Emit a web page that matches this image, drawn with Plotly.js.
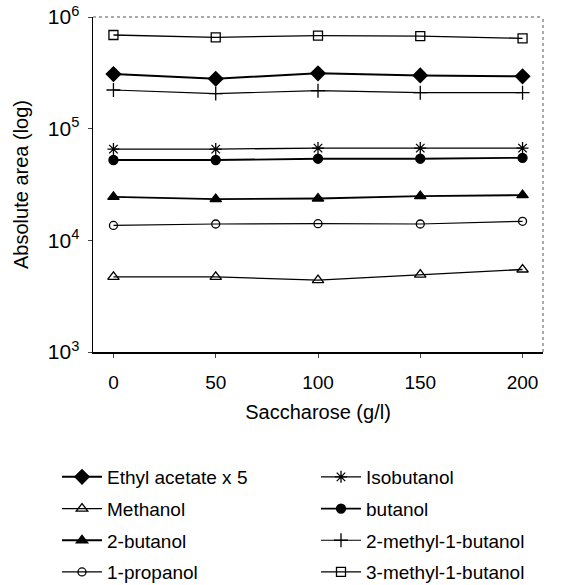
<!DOCTYPE html>
<html>
<head>
<meta charset="utf-8">
<script src="https://cdn.plot.ly/plotly-3.0.1.min.js"></script>
<style>body{margin:0;padding:0;background:#fff}#chart{width:567px;height:585px}</style>
</head>
<body>
<div id="chart"></div>
<script>
const saccharose = [0, 50, 100, 150, 200];
const yTickVals = [1000, 10000, 100000, 1000000];
const yTickText = ['10<sup>3</sup>', '10<sup>4</sup>', '10<sup>5</sup>', '10<sup>6</sup>'];
const ethylAcetateX5 = [308000, 280000, 313000, 300000, 294000];
const methanol = [4710, 4710, 4400, 4940, 5480];
const butanol2 = [24500, 23400, 23700, 24900, 25400];
const propanol1 = [13600, 14000, 14100, 14000, 14800];
const isobutanol = [65600, 65600, 67000, 67000, 67000];
const butanol = [52400, 52400, 53800, 53800, 54800];
const methylButanol2 = [222000, 206000, 219000, 210000, 210000];
const methylButanol3 = [690000, 658000, 680000, 675000, 644000];

function tr(name, y, symbol, size, lw, legend, group) {
  return {
    x: saccharose, y: y, name: name, type: 'scatter', mode: 'lines+markers',
    line: {color: '#000', width: lw},
    marker: {symbol: symbol, size: size, color: '#000', line: {color: '#000', width: 1.3}},
    legend: legend, legendgroup: group
  };
}

const data = [
  tr('Ethyl acetate x 5', ethylAcetateX5, 'diamond', 11, 2, 'legend', 'a'),
  tr('Methanol', methanol, 'triangle-up-open', 10, 1.3, 'legend', 'b'),
  tr('2-butanol', butanol2, 'triangle-up', 10, 1.8, 'legend', 'c'),
  tr('1-propanol', propanol1, 'circle-open', 8, 1.2, 'legend', 'd'),
  tr('Isobutanol', isobutanol, 'asterisk-open', 10, 1.3, 'legend2', 'e'),
  tr('butanol', butanol, 'circle', 9, 1.8, 'legend2', 'f'),
  tr('2-methyl-1-butanol', methylButanol2, 'cross-thin-open', 10, 1.2, 'legend2', 'g'),
  tr('3-methyl-1-butanol', methylButanol3, 'square-open', 9, 1.3, 'legend2', 'h')
];

const font = {family: 'Liberation Sans, Arial, sans-serif', size: 19, color: '#000'};

const layout = {
  width: 567, height: 585,
  margin: {l: 93, r: 24, t: 17, b: 233, autoexpand: false},
  paper_bgcolor: '#fff', plot_bgcolor: '#fff',
  font: font,
  showlegend: true,
  xaxis: {
    range: [-10, 210], tickvals: saccharose, ticks: 'outside', ticklen: 4, tickwidth: 1,
    ticklabelstandoff: 9,
    showgrid: false, zeroline: false, showline: true, linecolor: '#000', linewidth: 1.5,
    tickfont: {size: 19}, title: {text: 'Saccharose (g/l)', font: {size: 20}, standoff: 12}
  },
  yaxis: {
    type: 'log', range: [3, 6], tickvals: yTickVals, ticktext: yTickText,
    ticks: 'outside', ticklen: 4, tickwidth: 1, ticklabelstandoff: 4,
    showgrid: false, zeroline: false, showline: true, linecolor: '#000', linewidth: 1.5,
    tickfont: {size: 21}, title: {text: 'Absolute area (log)', font: {size: 20}, standoff: 14}
  },
  shapes: [
    {type: 'line', xref: 'paper', yref: 'paper', x0: 0, x1: 1, y0: 1, y1: 1, line: {color: '#555', width: 1, dash: 'dot'}},
    {type: 'line', xref: 'paper', yref: 'paper', x0: 1, x1: 1, y0: 0, y1: 1, line: {color: '#555', width: 1, dash: 'dot'}}
  ],
  legend: {
    x: (57 - 93) / 450, y: (352 - 458) / 335, xanchor: 'left', yanchor: 'top',
    orientation: 'v', tracegroupgap: 4, font: {size: 19}, bgcolor: 'rgba(0,0,0,0)', itemwidth: 40
  },
  legend2: {
    x: (316 - 93) / 450, y: (352 - 458) / 335, xanchor: 'left', yanchor: 'top',
    orientation: 'v', tracegroupgap: 4, font: {size: 19}, bgcolor: 'rgba(0,0,0,0)', itemwidth: 40
  }
};

Plotly.newPlot('chart', data, layout, {displayModeBar: false, staticPlot: true});
</script>
</body>
</html>
